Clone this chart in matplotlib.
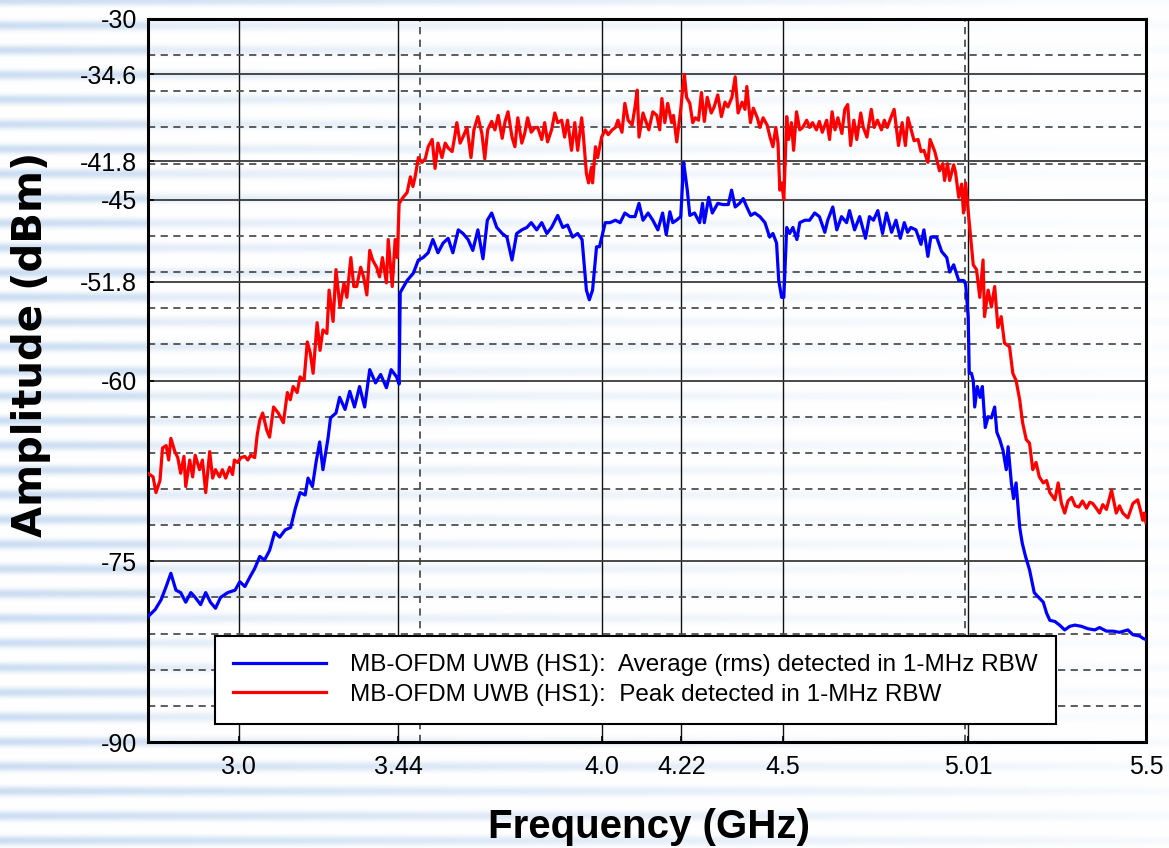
import numpy as np
import matplotlib
matplotlib.use("Agg")
import matplotlib.pyplot as plt
from matplotlib.lines import Line2D

plt.rcParams['font.family'] = ['Liberation Sans', 'DejaVu Sans']

# ---------------- data ----------------
x_ticks = [3.0, 3.44, 4.0, 4.22, 4.5, 5.01, 5.5]
x_tick_labels = ["3.0", "3.44", "4.0", "4.22", "4.5", "5.01", "5.5"]
x_minor_ticks = [3.5, 5.0]
y_ticks = [-90, -75, -60, -51.8, -45, -41.8, -34.6, -30]
y_tick_labels = ["-90", "-75", "-60", "-51.8", "-45", "-41.8", "-34.6", "-30"]

series_labels = ["MB-OFDM UWB (HS1):  Average (rms) detected in 1-MHz RBW",
                 "MB-OFDM UWB (HS1):  Peak detected in 1-MHz RBW"]

avg_freq = [
    2.750, 2.770, 2.786, 2.800, 2.813, 2.827, 2.840, 2.854, 2.868, 2.880,
    2.895, 2.909, 2.922, 2.936, 2.950, 2.970, 2.990, 3.003, 3.017, 3.031,
    3.044, 3.058, 3.071, 3.085, 3.099, 3.113, 3.128, 3.143, 3.156, 3.169,
    3.183, 3.191, 3.203, 3.213, 3.223, 3.232, 3.246, 3.253, 3.268, 3.278,
    3.293, 3.306, 3.319, 3.333, 3.347, 3.361, 3.377, 3.391, 3.407, 3.420,
    3.435, 3.442,
    3.445, 3.464, 3.481, 3.495, 3.508, 3.522, 3.535, 3.549, 3.563, 3.577,
    3.590, 3.605, 3.618, 3.632, 3.645, 3.659, 3.673, 3.685, 3.697, 3.711,
    3.726, 3.739, 3.753, 3.766, 3.780, 3.794, 3.806, 3.821, 3.835, 3.849,
    3.862, 3.879, 3.893, 3.906, 3.920, 3.934, 3.946, 3.958, 3.966, 3.975,
    3.986, 3.994, 4.010, 4.023, 4.038, 4.051, 4.064, 4.078, 4.092, 4.103,
    4.114, 4.128, 4.141, 4.155,
    4.168, 4.178, 4.188, 4.196, 4.206, 4.218, 4.226, 4.236, 4.243, 4.256,
    4.270, 4.278, 4.283, 4.295, 4.305, 4.320, 4.334, 4.349, 4.358, 4.368,
    4.380, 4.390, 4.400, 4.411, 4.422, 4.436, 4.450, 4.463, 4.472, 4.482,
    4.488, 4.496, 4.502, 4.510, 4.518, 4.527, 4.538, 4.546, 4.560, 4.573,
    4.587, 4.600, 4.615, 4.623, 4.637, 4.648, 4.661, 4.675, 4.683, 4.697,
    4.711, 4.727, 4.738, 4.749, 4.761, 4.774, 4.785, 4.799, 4.811, 4.823,
    4.834, 4.843,
    4.852, 4.866, 4.880, 4.888, 4.899, 4.907, 4.923, 4.937, 4.951, 4.959,
    4.970, 4.984, 4.997, 5.003,
    5.010, 5.013, 5.019, 5.024, 5.028, 5.035, 5.043, 5.049, 5.057, 5.065,
    5.074, 5.083, 5.089, 5.097, 5.106, 5.115, 5.120, 5.129, 5.135, 5.142,
    5.152, 5.159, 5.168, 5.179, 5.192, 5.201, 5.217, 5.226, 5.235, 5.249,
    5.262, 5.276, 5.290, 5.304, 5.322, 5.340, 5.359, 5.372, 5.391, 5.409,
    5.427, 5.450, 5.464, 5.482, 5.492, 5.500,
]
avg_dbm = [
    -79.6, -79.0, -78.2, -77.1, -76.0, -77.4, -77.6, -78.4, -77.6, -78.0,
    -78.6, -77.6, -78.4, -78.9, -78.0, -77.6, -77.4, -76.7, -77.1, -76.3,
    -75.6, -74.6, -74.9, -74.1, -72.6, -73.0, -72.4, -72.2, -70.6, -69.3,
    -69.5, -68.1, -68.8, -66.8, -65.1, -67.4, -64.8, -63.1, -62.7, -61.4,
    -62.4, -60.9, -62.2, -60.5, -62.2, -59.1, -60.2, -59.5, -60.6, -59.1,
    -59.7, -60.3,
    -52.7, -51.7, -51.1, -50.0, -49.8, -49.4, -48.3, -49.4, -48.6, -48.2,
    -49.4, -47.5, -47.8, -48.3, -49.2, -47.5, -49.9, -46.7, -46.1, -47.3,
    -47.8, -48.1, -50.0, -47.8, -47.5, -47.3, -46.9, -47.5, -46.9, -47.8,
    -47.3, -46.3, -47.3, -47.1, -48.1, -47.8, -48.3, -52.5, -53.3, -52.5,
    -48.9, -48.9, -46.9, -46.9, -46.7, -46.9, -46.1, -46.4, -46.4, -45.3,
    -46.7, -46.1, -46.7, -47.5,
    -46.1, -47.9, -46.0, -46.9, -46.7, -46.4, -41.9, -44.2, -46.3, -46.1,
    -46.9, -45.3, -46.9, -44.8, -46.1, -45.3, -45.4, -45.4, -44.2, -45.6,
    -45.3, -44.9, -45.6, -46.3, -46.1, -46.4, -46.9, -48.1, -47.8, -48.6,
    -51.7, -53.1, -53.1, -47.3, -47.8, -47.3, -48.3, -46.9, -46.7, -46.7,
    -46.1, -46.4, -47.7, -46.7, -45.6, -47.5, -46.4, -46.9, -45.9, -47.5,
    -46.4, -48.2, -46.4, -46.7, -45.9, -47.8, -46.1, -47.7, -46.7, -48.2,
    -46.9, -47.7,
    -47.3, -47.5, -48.7, -47.5, -49.7, -48.1, -48.1, -49.3, -49.8, -51.0,
    -50.4, -51.7, -51.7, -52.0,
    -54.7, -59.4, -59.4, -60.0, -62.2, -60.5, -61.4, -60.5, -63.9, -63.0,
    -63.1, -62.2, -64.3, -64.9, -65.8, -67.4, -65.5, -68.5, -69.8, -68.5,
    -72.2, -73.5, -74.6, -75.7, -77.6, -77.9, -78.4, -79.3, -79.9, -80.0,
    -80.3, -80.7, -80.4, -80.3, -80.4, -80.6, -80.7, -80.5, -80.8, -80.8,
    -80.9, -80.7, -81.1, -81.2, -81.4, -81.5,
]

peak_freq = [
    2.750, 2.764, 2.772, 2.783, 2.790, 2.800, 2.807, 2.813, 2.824, 2.832,
    2.840, 2.849, 2.854, 2.865, 2.873, 2.880, 2.892, 2.900, 2.909, 2.920,
    2.928, 2.936, 2.947, 2.955, 2.964, 2.975, 2.983, 2.988, 2.997, 3.006,
    3.017, 3.025, 3.033, 3.044, 3.051,
    3.058, 3.066, 3.077, 3.085, 3.096, 3.109, 3.123, 3.134, 3.142, 3.150,
    3.161, 3.169, 3.180, 3.189, 3.197, 3.205, 3.216, 3.224, 3.232, 3.243,
    3.249, 3.260, 3.268, 3.279, 3.290, 3.298, 3.309, 3.317, 3.325, 3.336,
    3.344, 3.353, 3.361, 3.369, 3.380, 3.388, 3.396, 3.407, 3.412, 3.423,
    3.431, 3.437, 3.442,
    3.453, 3.464, 3.473, 3.480, 3.486, 3.495, 3.505, 3.514, 3.522, 3.533,
    3.541, 3.549, 3.560, 3.569, 3.577, 3.588, 3.595, 3.601, 3.610, 3.618,
    3.629, 3.640, 3.648, 3.659, 3.670, 3.678, 3.686, 3.697, 3.706, 3.715,
    3.726, 3.734, 3.742, 3.753, 3.761, 3.769, 3.780, 3.788, 3.796, 3.806,
    3.816, 3.824, 3.835, 3.843, 3.851, 3.862, 3.871, 3.879, 3.890, 3.898,
    3.906, 3.917, 3.926, 3.934, 3.945, 3.950, 3.958, 3.964, 3.972, 3.975,
    3.983, 3.989, 4.000, 4.010, 4.018, 4.029, 4.038, 4.045, 4.056, 4.064,
    4.073, 4.084, 4.092, 4.098, 4.103, 4.114, 4.122, 4.130, 4.141, 4.152,
    4.160, 4.166, 4.174, 4.182, 4.193, 4.198, 4.207, 4.218, 4.223, 4.228,
    4.234, 4.243, 4.251, 4.258, 4.267, 4.275, 4.283, 4.291, 4.302, 4.310,
    4.320, 4.330, 4.340, 4.348, 4.359, 4.368, 4.376, 4.387, 4.395, 4.400,
    4.410, 4.418, 4.429, 4.436, 4.445, 4.456, 4.464, 4.472, 4.480, 4.486,
    4.491, 4.496, 4.502, 4.510, 4.515, 4.523, 4.529, 4.537, 4.546, 4.554,
    4.565, 4.573, 4.581, 4.592, 4.600, 4.608, 4.620, 4.628, 4.635, 4.643,
    4.651, 4.662, 4.670, 4.678, 4.686, 4.695, 4.703, 4.714, 4.721, 4.731,
    4.743, 4.751, 4.760, 4.771, 4.779, 4.787, 4.798, 4.806, 4.818, 4.828,
    4.837, 4.844,
    4.852, 4.861, 4.872, 4.880, 4.888, 4.899, 4.905, 4.918, 4.923, 4.931,
    4.940, 4.945, 4.953, 4.959, 4.970, 4.975, 4.984, 4.992, 4.997, 5.003,
    5.008,
    5.024, 5.033, 5.042, 5.051, 5.055, 5.065, 5.074, 5.083, 5.092, 5.101,
    5.110, 5.124, 5.133, 5.142, 5.152, 5.160, 5.170, 5.179, 5.188, 5.197,
    5.206, 5.217, 5.226, 5.235, 5.249, 5.258, 5.267, 5.276, 5.285, 5.295,
    5.305, 5.315, 5.325, 5.336, 5.345, 5.353, 5.363, 5.372, 5.381, 5.391,
    5.405, 5.418, 5.427, 5.436, 5.450, 5.464, 5.477, 5.485, 5.491, 5.495,
    5.500,
]
peak_dbm = [
    -67.7, -68.0, -69.3, -68.3, -65.6, -65.4, -66.6, -64.8, -65.9, -66.4,
    -67.7, -66.3, -68.8, -66.6, -68.0, -66.2, -67.4, -66.6, -69.3, -65.9,
    -68.1, -67.4, -68.0, -67.4, -68.1, -67.2, -67.8, -66.6, -66.8, -66.4,
    -66.3, -66.6, -66.2, -66.4, -64.5,
    -63.3, -62.7, -64.1, -64.7, -62.2, -62.7, -63.5, -61.0, -61.6, -60.5,
    -61.0, -59.7, -60.0, -56.8, -57.7, -59.4, -55.2, -57.5, -55.8, -56.1,
    -52.5, -55.1, -50.8, -53.9, -51.9, -53.1, -49.8, -52.2, -52.2, -50.6,
    -51.4, -52.9, -49.2, -50.0, -50.6, -51.4, -49.8, -51.9, -48.3, -52.2,
    -48.3, -49.8, -45.3,
    -44.8, -44.4, -43.1, -43.9, -43.1, -41.5, -41.9, -41.6, -40.6, -40.0,
    -42.4, -40.3, -41.5, -40.3, -40.7, -41.0, -39.8, -38.6, -40.3, -39.8,
    -39.0, -41.5, -39.2, -38.1, -39.5, -41.6, -39.2, -38.5, -39.2, -38.0,
    -39.9, -38.5, -37.7, -39.8, -40.6, -38.2, -40.3, -39.5, -38.2, -39.4,
    -39.0, -39.0, -40.0, -38.6, -40.2, -39.2, -37.8, -38.6, -38.4, -39.8,
    -38.4, -40.9, -38.6, -40.9, -38.2, -39.8, -42.8, -43.6, -42.3, -43.6,
    -40.6, -41.5, -39.8, -39.2, -39.6, -39.2, -39.0, -38.4, -39.4, -37.0,
    -38.4, -38.8, -37.3, -35.9, -39.8, -37.8, -38.5, -39.2, -37.7, -38.0,
    -39.2, -36.6, -38.6, -37.0, -38.6, -38.0, -40.2, -37.5, -35.9, -34.6,
    -36.5, -37.0, -38.6, -38.2, -38.4, -36.1, -38.5, -36.5, -37.8, -37.3,
    -36.3, -38.1, -36.9, -37.3, -36.5, -34.8, -37.8, -36.9, -37.5, -35.6,
    -38.6, -37.4, -38.2, -39.0, -38.2, -38.8, -39.8, -40.6, -39.0, -40.3,
    -44.2, -43.6, -45.0, -38.1, -40.0, -38.6, -40.9, -37.7, -39.2, -39.0,
    -38.4, -39.0, -38.6, -39.2, -38.5, -39.4, -38.4, -40.0, -37.7, -39.2,
    -38.2, -39.5, -37.5, -37.1, -40.5, -38.4, -40.0, -37.8, -39.0, -39.8,
    -37.5, -39.0, -38.4, -39.2, -38.4, -39.0, -38.1, -37.5, -40.5, -38.6,
    -40.5, -38.2,
    -39.1, -40.1, -40.0, -41.0, -40.9, -41.9, -40.0, -41.0, -41.6, -42.6,
    -42.0, -43.4, -42.0, -43.4, -42.1, -42.7, -44.8, -43.7, -46.1, -43.6,
    -45.3,
    -50.4, -50.8, -53.1, -50.0, -54.7, -52.5, -53.9, -52.2, -55.6, -54.7,
    -56.9, -57.2, -59.4, -60.0, -61.6, -63.5, -64.9, -65.2, -67.4, -66.8,
    -68.0, -68.5, -68.3, -69.3, -69.9, -68.5, -70.2, -71.0, -70.0, -69.7,
    -70.4, -70.5, -70.0, -70.6, -70.1, -70.2, -70.6, -71.0, -70.3, -70.7,
    -69.1, -71.0, -70.4, -71.0, -71.4, -70.2, -69.9, -70.8, -71.6, -71.0,
    -71.8,
]
assert len(avg_freq) == len(avg_dbm)
assert len(peak_freq) == len(peak_dbm)

# ---------------- figure ----------------
W, H = 1169, 848
fig = plt.figure(figsize=(W / 100, H / 100), dpi=100)

# striped decorative background
yy, xx = np.mgrid[0:H, 0:W].astype(float)
band = ((1 + np.cos(2 * np.pi * (yy - 25.0) / 24.7)) / 2) ** 2.5
fade = np.clip(1.0 - 0.85 * xx / W - 0.15 * (1 - yy / H) * (xx / W), 0.12, 1.0)
a = (band * fade)[..., None]
stripe = np.array([0.80, 0.87, 0.95])
img = (1 - a) * np.ones(3) + a * stripe
bg = fig.add_axes([0, 0, 1, 1], zorder=-10)
bg.imshow(img, aspect='auto', interpolation='bilinear')
bg.set_axis_off()

ax = fig.add_axes([148 / W, 1 - 742 / H, (1146 - 148) / W, (742 - 19) / H])
ax.set_facecolor((1, 1, 1, 0.4))

ax.plot(peak_freq, peak_dbm, color='#ff0000', lw=2.3, zorder=3)
ax.plot(avg_freq, avg_dbm, color='#0000ff', lw=2.3, zorder=4)

ax.set_xlim(2.75, 5.5)
ax.set_ylim(-90, -30)

ax.set_xticks(x_ticks)
ax.set_xticklabels(x_tick_labels)
ax.set_xticks(x_minor_ticks, minor=True)
ax.set_yticks(y_ticks)
ax.set_yticklabels(y_tick_labels)
ax.set_yticks(np.arange(-87, -30, 3), minor=True)

ax.set_axisbelow(True)
ax.grid(which='major', axis='y', color='#3a3a3a', lw=1.3, ls='-')
ax.grid(which='major', axis='x', color='#111111', lw=1.0, ls='-')
ax.grid(which='minor', axis='both', color='#505050', lw=1.3, ls=(0, (4, 3)))

ax.tick_params(which='minor', length=0)
ax.tick_params(which='major', direction='in', length=4, width=1.2,
               labelsize=18, colors='black')
ax.tick_params(axis='y', which='major', pad=8)
ax.tick_params(axis='x', which='major', pad=9)

for s in ax.spines.values():
    s.set_linewidth(2.2)
    s.set_color('black')

fig.text(649 / W, 1 - 827 / H, "Frequency (GHz)", fontsize=29, weight='bold',
         ha='center', va='center')
fig.text(31 / W, 1 - 344 / H, "Amplitude (dBm)", fontsize=29, weight='bold',
         ha='center', va='center', rotation=90, family=['DejaVu Sans'])

handles = [Line2D([], [], color='#0000ff', lw=2.3),
           Line2D([], [], color='#ff0000', lw=2.3)]
leg = ax.legend(handles, series_labels, loc='lower left',
                bbox_to_anchor=(215 / W, 1 - 724 / H), bbox_transform=fig.transFigure,
                fontsize=17.5, frameon=True, fancybox=False, edgecolor='black',
                framealpha=1, borderaxespad=0, handlelength=3.8,
                handletextpad=1.0, labelspacing=0.3, borderpad=0.75)
leg.get_frame().set_linewidth(1.5)
leg.set_zorder(10)

fig.savefig("out.png", dpi=100)
